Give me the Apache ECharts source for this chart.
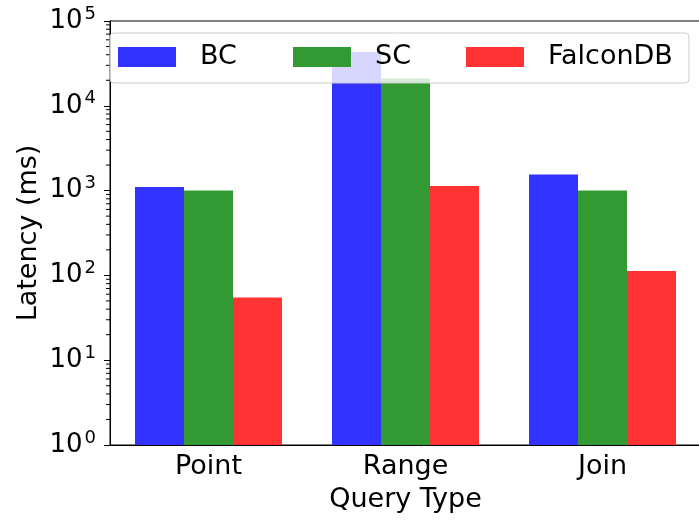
<!DOCTYPE html>
<html>
<head>
<meta charset="utf-8">
<script src="https://cdn.jsdelivr.net/npm/echarts@6/dist/echarts.min.js"></script>
<style>
  html, body { margin: 0; padding: 0; background: #ffffff; }
  #chart { width: 699px; height: 520px; }
</style>
</head>
<body>
<div id="chart"></div>
<script>
// Query latency per query type, in milliseconds (log scale)
const categories = ['Point', 'Range', 'Join'];
const seriesNames = ['BC', 'SC', 'FalconDB'];
const bcLatency = [1100, 43000, 1550];
const scLatency = [1000, 21000, 1000];
const falconLatency = [55, 1130, 113];
const yMin = 1;
const yMax = 100000;

const FONT = 'DejaVu Sans';
const colors = ['#3333ff', '#339933', '#ff3333'];
const GRID_LEFT = 110;

const chart = echarts.init(document.getElementById('chart'), null, { renderer: 'canvas' });

function bar(name, data, color) {
  return {
    name: name,
    type: 'bar',
    data: data,
    barWidth: 49,
    barGap: '0%',
    itemStyle: { color: color },
    emphasis: { disabled: true },
    z: 2
  };
}

function legendFor(name, left) {
  return {
    data: [name],
    left: left,
    top: 42,
    padding: 0,
    itemWidth: 58,
    itemHeight: 20,
    icon: 'rect',
    z: 20,
    selectedMode: false,
    textStyle: {
      fontFamily: FONT, fontSize: 27, color: '#000',
      padding: [0, 0, 0, 19], lineHeight: 30
    }
  };
}

const legendBox = {
  id: 'legendBox',
  type: 'rect',
  z: 10,
  shape: { x: 110, y: 33, width: 579, height: 50, r: 4 },
  style: { fill: 'rgba(255,255,255,0.8)', stroke: '#cccccc', lineWidth: 1 }
};

chart.setOption({
  animation: false,
  backgroundColor: '#ffffff',
  grid: {
    left: GRID_LEFT, right: -2, top: 21, bottom: 75,
    containLabel: false,
    outerBoundsMode: 'none',
    show: true, borderColor: '#000', borderWidth: 1, backgroundColor: 'transparent'
  },
  legend: [legendFor('BC', 118), legendFor('SC', 293), legendFor('FalconDB', 466)],
  xAxis: {
    type: 'category',
    data: categories,
    name: 'Query Type',
    nameLocation: 'middle',
    nameGap: 41,
    nameMoveOverlap: false,
    nameTextStyle: { fontFamily: FONT, fontSize: 27, color: '#000' },
    axisLine: { lineStyle: { color: '#000', width: 1 } },
    axisTick: { alignWithLabel: true, length: 6, lineStyle: { color: '#000' } },
    axisLabel: { fontFamily: FONT, fontSize: 27, color: '#000', margin: 8 },
    splitLine: { show: false }
  },
  yAxis: {
    type: 'log',
    logBase: 10,
    min: yMin,
    max: yMax,
    name: 'Latency (ms)',
    nameLocation: 'middle',
    nameGap: 68,
    nameMoveOverlap: false,
    nameTextStyle: { fontFamily: FONT, fontSize: 27, color: '#000' },
    axisLine: { show: true, lineStyle: { color: '#000', width: 1 } },
    axisTick: { show: true, length: 6, lineStyle: { color: '#000' } },
    splitLine: { show: false },
    axisLabel: {
      margin: 14,
      formatter: function (v) {
        const e = Math.round(Math.log10(v));
        return '{b|10}{s|' + e + '}';
      },
      rich: {
        b: { fontFamily: FONT, fontSize: 26, color: '#000' },
        s: { fontFamily: FONT, fontSize: 18, color: '#000', verticalAlign: 'top', padding: [0, 0, 14, 2] }
      }
    }
  },
  series: [
    bar(seriesNames[0], bcLatency, colors[0]),
    bar(seriesNames[1], scLatency, colors[1]),
    bar(seriesNames[2], falconLatency, colors[2])
  ],
  graphic: [legendBox]
});

// Minor ticks at 2..9 within each decade of the log axis
const minorTicks = [];
for (let k = 0; k < 5; k++) {
  for (let m = 2; m <= 9; m++) {
    const y = chart.convertToPixel({ yAxisIndex: 0 }, m * Math.pow(10, k));
    minorTicks.push({
      type: 'line',
      z: 5,
      shape: { x1: GRID_LEFT - 4, y1: y, x2: GRID_LEFT, y2: y },
      style: { stroke: '#000', lineWidth: 1 }
    });
  }
}
chart.setOption({ graphic: [legendBox].concat(minorTicks) }, { replaceMerge: ['graphic'] });
</script>
</body>
</html>
